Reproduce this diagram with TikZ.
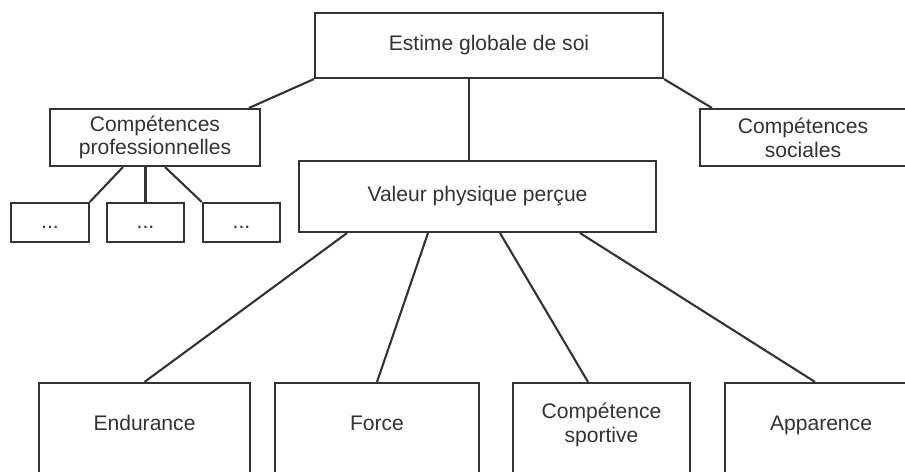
\documentclass[tikz,border=0pt]{standalone}
\usepackage{fontspec}
\setmainfont{Liberation Sans}
\usepackage{tikz}
\usetikzlibrary{positioning}
\definecolor{ink}{gray}{0.2}
\tikzstyle{link} = [line width=1.2pt, draw=ink]
\tikzstyle{block} = [rectangle, draw=ink, line width=1.2pt, text=ink, align=center, font=\fontsize{12}{13.5}\selectfont]
\tikzset{
	dotbox/.style = {block, minimum width=1.55cm, minimum height=0.78cm, text height=0.22cm},
	bottombox/.style = {block, minimum height=1.9cm, text depth=0.3cm}
}

\begin{document}
\begin{tikzpicture}[node distance=1.75cm]
\useasboundingbox (0,0) rectangle (18.1,-9.44);
\clip (0,0) rectangle (18.1,-9.44);
%----------------------------------------------------------------------------
% Placement of nodes
\node (estimeGlobale) [block, minimum width=6.96cm, minimum height=1.3cm] at (9.78,-0.91) {Estime globale de soi};
\node (compPro) [block, below of = estimeGlobale, node distance=1.84cm, xshift=-6.68cm, minimum width=4.2cm, minimum height=1.14cm] {Compétences\\professionnelles};
\node (compSoc) [block, below of = estimeGlobale, node distance=1.84cm, xshift=6.28cm, minimum width=4.12cm, minimum height=1.14cm] {Compétences\\sociales};
\node (valeurPhys) [block, below of = estimeGlobale, node distance=3.02cm, xshift=-0.23cm, minimum width=7.14cm, minimum height=1.42cm] {Valeur physique perçue};

\node (dots2) [dotbox, below of = compPro, node distance=1.7cm, xshift=-0.19cm] {...};
\node (dots1) [dotbox, left of = dots2, node distance=1.91cm] {...};
\node (dots3) [dotbox, right of = dots2, node distance=1.92cm] {...};

\node (force1) [bottombox, below of = valeurPhys, node distance=4.68cm, xshift=-2.01cm, minimum width=4.08cm] {Force};
\node (endurance1) [bottombox, left of = force1, node distance=4.65cm, minimum width=4.22cm] {Endurance};
\node (compSport1) [bottombox, right of = force1, node distance=4.49cm, minimum width=3.54cm] {Compétence\\sportive};
\node (apparence1) [bottombox, right of = compSport1, node distance=4.39cm, minimum width=3.84cm] {Apparence};

%----------------------------------------------------------------------------
% Lines
\draw [link] (estimeGlobale.south west) -- ([xshift=-0.24cm]compPro.north east);
\draw [link] ([xshift=-0.4cm]estimeGlobale.south) -- ([xshift=-0.4cm]estimeGlobale.south |- valeurPhys.north);
\draw [link] (estimeGlobale.south east) -- ([xshift=0.26cm]compSoc.north west);

\draw [link] ([xshift=-0.64cm]compPro.south) -- (dots1.north east);
\draw [link] (dots2.north |- compPro.south) -- (dots2.north);
\draw [link] ([xshift=0.2cm]compPro.south) -- (dots3.north west);

\draw [link] ([xshift=-2.61cm]valeurPhys.south) -- (endurance1.north);
\draw [link] ([xshift=-0.99cm]valeurPhys.south) -- (force1.north);
\draw [link] ([xshift=0.45cm]valeurPhys.south) -- ([xshift=-0.27cm]compSport1.north);
\draw [link] ([xshift=2.05cm]valeurPhys.south) -- ([xshift=-0.12cm]apparence1.north);
\end{tikzpicture}
\end{document}
